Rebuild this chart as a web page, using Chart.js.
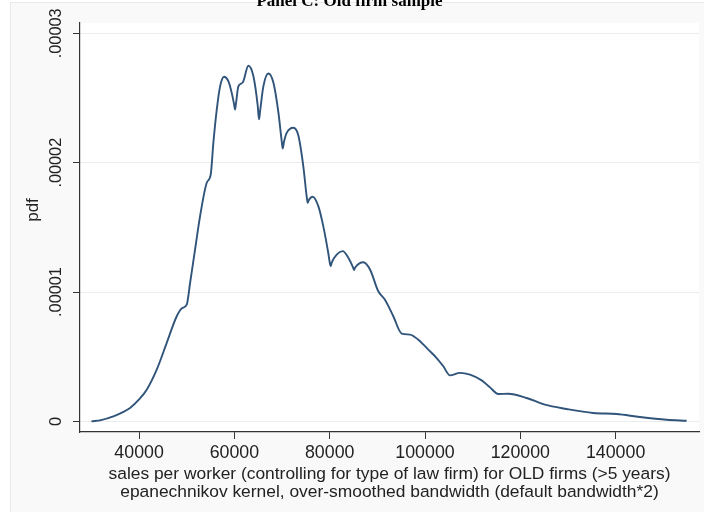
<!DOCTYPE html>
<html>
<head>
<meta charset="utf-8">
<script src="https://cdn.jsdelivr.net/npm/chart.js@4/dist/chart.umd.min.js"></script>
<style>
  html, body { margin: 0; padding: 0; background: #ffffff; }
  #wrap { position: relative; width: 704px; height: 512px; overflow: hidden; }
  canvas { display: block; }
</style>
</head>
<body>
<div id="wrap"><canvas id="c" width="704" height="512"></canvas></div>
<script>
// Kernel density estimate of sales per worker, old firms (>5 years)
const salesPerWorker = [
  30000, 32000, 34600, 36500, 38100, 40000, 41600, 43700, 45800, 47900,
  49000, 50000, 50700, 51750, 52800, 54200, 55040, 55590, 56300, 57000,
  57830, 58730, 59440, 59940, 60140, 60340, 60830, 61750, 62930, 63980,
  64900, 65170, 65400, 66080, 67130, 68180, 69230, 69950, 70150, 70400,
  70980, 72370, 73420, 74470, 75200, 75390, 75600, 76440, 77610, 78650,
  79710, 80050, 80220, 80450, 81470, 82730, 83910, 84900, 85100, 85350,
  87060, 88460, 90200, 91600, 93350, 95110, 96850, 98590, 100690, 102450,
  103850, 105240, 107340, 109440, 111890, 113630, 115380, 117470, 121330, 125170,
  129720, 135300, 140200, 145100, 150700, 154900
];
const density = [
  0, 1.0e-7, 3.9e-7, 7.0e-7, 1.04e-6, 1.7e-6, 2.45e-6, 4.0e-6, 6.07e-6, 8.13e-6,
  8.75e-6, 9.03e-6, 1.07e-5, 1.33e-5, 1.587e-5, 1.845e-5, 1.91e-5, 2.155e-5, 2.41e-5, 2.59e-5,
  2.665e-5, 2.63e-5, 2.54e-5, 2.45e-5, 2.41e-5, 2.46e-5, 2.59e-5, 2.62e-5, 2.75e-5, 2.67e-5,
  2.44e-5, 2.335e-5, 2.4e-5, 2.59e-5, 2.69e-5, 2.62e-5, 2.39e-5, 2.16e-5, 2.11e-5, 2.16e-5,
  2.23e-5, 2.27e-5, 2.21e-5, 1.97e-5, 1.73e-5, 1.69e-5, 1.71e-5, 1.737e-5, 1.664e-5, 1.51e-5,
  1.30e-5, 1.22e-5, 1.20e-5, 1.23e-5, 1.29e-5, 1.316e-5, 1.265e-5, 1.19e-5, 1.17e-5, 1.19e-5,
  1.23e-5, 1.174e-5, 1.006e-5, 9.4e-6, 8.13e-6, 6.79e-6, 6.71e-6, 6.32e-6, 5.55e-6, 4.9e-6,
  4.26e-6, 3.56e-6, 3.75e-6, 3.61e-6, 3.17e-6, 2.63e-6, 2.12e-6, 2.14e-6, 1.81e-6, 1.29e-6,
  9.6e-7, 6.5e-7, 5.7e-7, 3.4e-7, 1.3e-7, 5e-8
];
const xTicks = [40000, 60000, 80000, 100000, 120000, 140000];
const yTicks = [0, 0.00001, 0.00002, 0.00003];
const yTickLabels = ['0', '.00001', '.00002', '.00003'];
const chartTitle = 'Panel C: Old firm sample';
const xTitle = [
  'sales per worker (controlling for type of law firm) for OLD firms (>5 years)',
  'epanechnikov kernel, over-smoothed bandwidth (default bandwidth*2)'
];
const yTitle = 'pdf';

const points = salesPerWorker.map((v, i) => ({ x: v, y: density[i] }));

const textFont = 'Liberation Sans, Arial, sans-serif';
const textColor = '#222222';
const axisColor = '#333333';

// Light graph-region panel behind a white plot region
const panelPlugin = {
  id: 'panel',
  beforeDraw(chart) {
    const { ctx, chartArea: a } = chart;
    ctx.save();
    ctx.fillStyle = '#ffffff';
    ctx.fillRect(0, 0, chart.width, chart.height);
    ctx.fillStyle = '#f9f9f9';
    ctx.fillRect(10, 2, chart.width - 10, chart.height - 2);
    ctx.strokeStyle = '#e9e9e9';
    ctx.lineWidth = 1;
    ctx.strokeRect(10.5, 2.5, chart.width - 10, chart.height);
    ctx.fillStyle = '#ffffff';
    ctx.fillRect(a.left, a.top, a.right - a.left, a.bottom - a.top);
    ctx.restore();
  }
};

// Vertical "pdf" axis title
const yTitlePlugin = {
  id: 'yTitle',
  afterDraw(chart) {
    const { ctx } = chart;
    ctx.save();
    ctx.translate(33, 210);
    ctx.rotate(-Math.PI / 2);
    ctx.font = '17px ' + textFont;
    ctx.fillStyle = textColor;
    ctx.textAlign = 'center';
    ctx.textBaseline = 'middle';
    ctx.fillText(yTitle, 0, 0);
    ctx.restore();
  }
};

new Chart(document.getElementById('c'), {
  type: 'line',
  data: {
    datasets: [{
      data: points,
      borderColor: '#30547a',
      borderWidth: 1.9,
      pointRadius: 0,
      fill: false,
      cubicInterpolationMode: 'monotone'
    }]
  },
  options: {
    responsive: false,
    animation: false,
    devicePixelRatio: 1,
    layout: { autoPadding: false, padding: { left: 0, right: 5, top: 0, bottom: 0 } },
    plugins: {
      legend: { display: false },
      tooltip: { enabled: false },
      title: {
        display: true,
        text: chartTitle,
        color: '#000000',
        font: { family: 'Liberation Serif, Times New Roman, serif', weight: 'bold', size: 17, lineHeight: 1.2 },
        padding: { top: -8.5, bottom: 11.1 }
      }
    },
    scales: {
      x: {
        type: 'linear',
        min: 27600,
        max: 157500,
        afterBuildTicks: s => { s.ticks = xTicks.map(v => ({ value: v })); },
        afterFit: s => { s.height = 80; },
        grid: { drawOnChartArea: false, tickColor: axisColor, tickLength: 7, tickWidth: 1 },
        border: { color: axisColor, width: 1.2 },
        ticks: {
          maxRotation: 0, minRotation: 0, padding: 3, color: textColor,
          font: { family: textFont, size: 17.8 },
          callback: v => String(v)
        },
        title: {
          display: true, text: xTitle, color: textColor,
          font: { family: textFont, size: 17.4, lineHeight: 1.04 },
          padding: { top: 0, bottom: 11 }
        }
      },
      y: {
        type: 'linear',
        min: -0.00000082,
        max: 0.0000308,
        afterBuildTicks: s => { s.ticks = yTicks.map(v => ({ value: v })); },
        afterFit: s => { s.width = 80; },
        grid: { color: '#ececec', lineWidth: 1, tickColor: axisColor, tickLength: 7, tickWidth: 1 },
        border: { color: axisColor, width: 1.2 },
        ticks: {
          minRotation: 90, maxRotation: 90, crossAlign: 'center', padding: -8,
          color: textColor, font: { family: textFont, size: 16.3 },
          callback: v => yTickLabels[yTicks.indexOf(v)]
        }
      }
    }
  },
  plugins: [panelPlugin, yTitlePlugin]
});
</script>
</body>
</html>
